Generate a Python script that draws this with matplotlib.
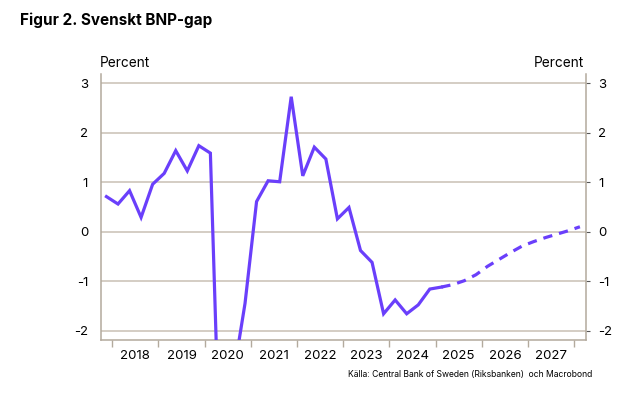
import matplotlib.pyplot as plt
import pandas as pd

plt.rcParams['font.family'] = ['Inter', 'DejaVu Sans']
plt.rcParams['axes.unicode_minus'] = False

# Utfall och prognos för BNP-gapet (procent), kvartalsdata
utfall_kvartal = pd.period_range("2017Q4", "2025Q1", freq="Q")
utfall = [0.71, 0.56, 0.83, 0.29, 0.96, 1.18, 1.64, 1.23, 1.74, 1.59,
          -6.0, -2.9, -1.45, 0.61, 1.03, 1.01, 2.73, 1.13, 1.71, 1.47,
          0.26, 0.49, -0.38, -0.62, -1.66, -1.38, -1.66, -1.48, -1.16, -1.12]
prognos_kvartal = pd.period_range("2025Q1", "2028Q1", freq="Q")
prognos = [-1.12, -1.07, -0.99, -0.87, -0.70, -0.56, -0.42, -0.29,
           -0.20, -0.12, -0.05, 0.02, 0.10]
ar = list(range(2018, 2028))
y_ticks = [-2, -1, 0, 1, 2, 3]

farg = "#6a3ffb"
grid_farg = "#c9c0b4"
spine_farg = "#b3aa9d"


def mitt_i_kvartal(p):
    # placera varje kvartal mitt i kvartalet, i decimalår
    return p.year + (p.quarter - 1) / 4 + 0.125


x_utfall = [mitt_i_kvartal(p) for p in utfall_kvartal]
x_prognos = [mitt_i_kvartal(p) for p in prognos_kvartal]

fig = plt.figure(figsize=(6.23, 3.94), dpi=100)
ax = fig.add_axes([0.1616, 0.1371, 0.9401 - 0.1616, 0.8122 - 0.1371])

ax.plot(x_utfall, utfall, color=farg, lw=2.3, solid_joinstyle="miter", zorder=3)
ax.plot(x_prognos, prognos, color=farg, lw=2.3, dashes=(2.9, 2.2),
        dash_capstyle="butt", zorder=3)

ax.set_xlim(2017.75, 2028.25)
ax.set_ylim(-2.19, 3.19)

ax.set_yticks(y_ticks)
ax.set_yticklabels([str(v) for v in y_ticks])
ax.yaxis.grid(True, color=grid_farg, lw=1.1)
ax.set_axisbelow(True)
ax.tick_params(axis="y", which="both", left=False, right=True, labelleft=True,
               labelright=True, length=3, color="#555555", labelsize=9.5,
               pad=6)

# årsgränser som streck, årtal mitt emellan
ax.set_xticks([a for a in ar] + [2028])
ax.set_xticklabels([])
ax.set_xticks([a + 0.5 for a in ar], minor=True)
ax.set_xticklabels([str(a) for a in ar], minor=True)
ax.tick_params(axis="x", which="major", length=5, color=spine_farg, width=1)
ax.tick_params(axis="x", which="minor", length=0, labelsize=9.5, pad=7)

for s in ["left", "right", "bottom"]:
    ax.spines[s].set_color(spine_farg)
    ax.spines[s].set_linewidth(1.1)
ax.spines["top"].set_visible(False)

fig.text(20 / 623, 1 - 20 / 394, "Figur 2. Svenskt BNP-gap", fontsize=11,
         fontweight="bold", ha="left", va="center")
fig.text(100 / 623, 1 - 63 / 394, "Percent", fontsize=9.8, ha="left", va="center")
fig.text(584 / 623, 1 - 63 / 394, "Percent", fontsize=9.8, ha="right", va="center")
fig.text(592 / 623, 1 - 375 / 394,
         "Källa: Central Bank of Sweden (Riksbanken)  och Macrobond",
         fontsize=6.2, ha="right", va="center")

fig.savefig("out.png", dpi=100)
